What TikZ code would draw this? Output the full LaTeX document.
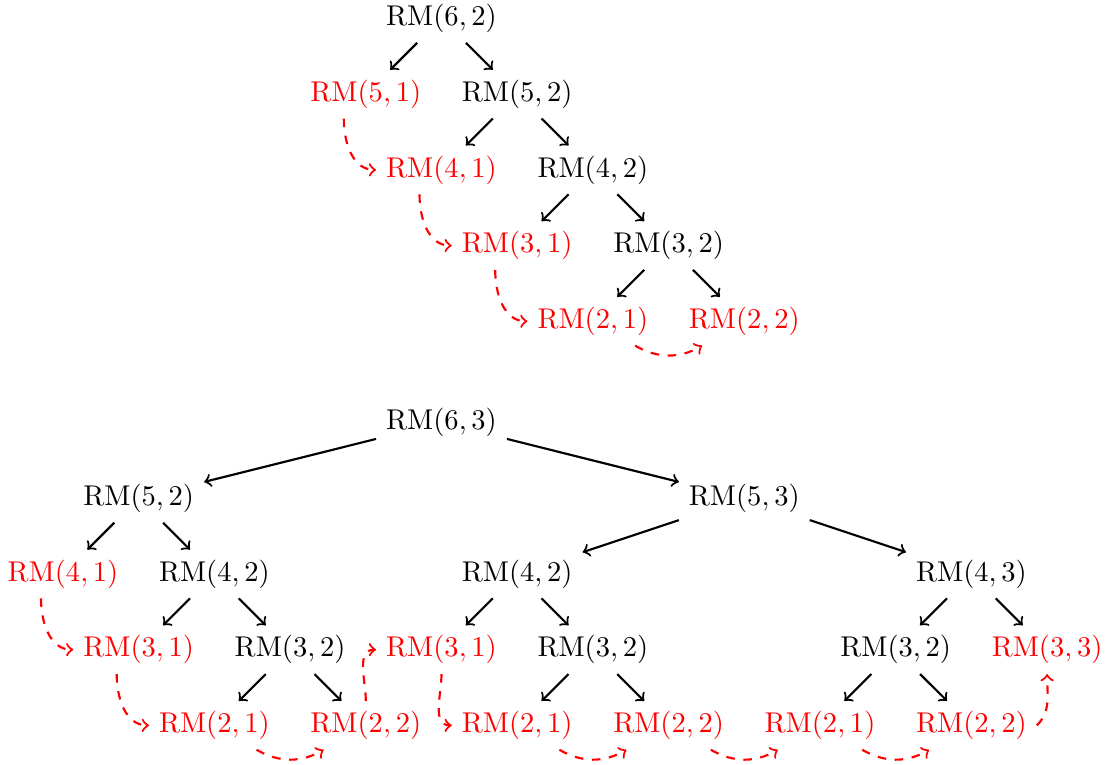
\documentclass[tikz,border=0pt]{standalone}
\usetikzlibrary{calc}
\tikzset{
  lbl/.style={inner sep=0.3333em},
  blk/.style={lbl,text=black},
  rd/.style={lbl,text=red},
  tree/.style={->,line width=0.75pt,black},
  jump/.style={->,line width=0.75pt,dashed,red},
}
\begin{document}
\begin{tikzpicture}[x=0.35pt,y=-0.35pt]
\useasboundingbox (0,0) rectangle (1107,765);
% ---------- top tree ----------
\node[blk] (t62) at (441.5,18.5) {$\mathrm{RM}(6,2)$};
\node[rd]  (t51) at (365.8,94.2) {$\mathrm{RM}(5,1)$};
\node[blk] (t52) at (517.2,94.2) {$\mathrm{RM}(5,2)$};
\node[rd]  (t41) at (441.5,169.9) {$\mathrm{RM}(4,1)$};
\node[blk] (t42) at (592.9,169.9) {$\mathrm{RM}(4,2)$};
\node[rd]  (t31) at (517.2,245.6) {$\mathrm{RM}(3,1)$};
\node[blk] (t32) at (668.6,245.6) {$\mathrm{RM}(3,2)$};
\node[rd]  (t21) at (592.9,321.3) {$\mathrm{RM}(2,1)$};
\node[rd]  (t22) at (744.3,321.3) {$\mathrm{RM}(2,2)$};
\draw[tree] (t62) -- (t51);
\draw[tree] (t62) -- (t52);
\draw[tree] (t52) -- (t41);
\draw[tree] (t52) -- (t42);
\draw[tree] (t42) -- (t31);
\draw[tree] (t42) -- (t32);
\draw[tree] (t32) -- (t21);
\draw[tree] (t32) -- (t22);
\draw[jump] ([xshift=-7.7pt]t51.south) to[out=-90,in=180] (t41.west);
\draw[jump] ([xshift=-7.7pt]t41.south) to[out=-90,in=180] (t31.west);
\draw[jump] ([xshift=-7.7pt]t31.south) to[out=-90,in=180] (t21.west);
\draw[jump] (t21) to[bend right] (t22);
% ---------- bottom tree ----------
\node[blk] (b63) at (441.5,422.6) {$\mathrm{RM}(6,3)$};
\node[blk] (b52) at (138.7,498.3) {$\mathrm{RM}(5,2)$};
\node[blk] (b53) at (744.3,498.3) {$\mathrm{RM}(5,3)$};
\node[rd]  (b41) at (63.0,574.0) {$\mathrm{RM}(4,1)$};
\node[blk] (b42) at (214.4,574.0) {$\mathrm{RM}(4,2)$};
\node[blk] (c42) at (517.2,574.0) {$\mathrm{RM}(4,2)$};
\node[blk] (b43) at (971.4,574.0) {$\mathrm{RM}(4,3)$};
\node[rd]  (b31) at (138.7,649.7) {$\mathrm{RM}(3,1)$};
\node[blk] (b32) at (290.1,649.7) {$\mathrm{RM}(3,2)$};
\node[rd]  (c31) at (441.5,649.7) {$\mathrm{RM}(3,1)$};
\node[blk] (c32) at (592.9,649.7) {$\mathrm{RM}(3,2)$};
\node[blk] (d32) at (895.7,649.7) {$\mathrm{RM}(3,2)$};
\node[rd]  (d33) at (1047.1,649.7) {$\mathrm{RM}(3,3)$};
\node[rd]  (b21) at (214.4,725.4) {$\mathrm{RM}(2,1)$};
\node[rd]  (b22) at (365.8,725.4) {$\mathrm{RM}(2,2)$};
\node[rd]  (c21) at (517.2,725.4) {$\mathrm{RM}(2,1)$};
\node[rd]  (c22) at (668.6,725.4) {$\mathrm{RM}(2,2)$};
\node[rd]  (d21) at (820.0,725.4) {$\mathrm{RM}(2,1)$};
\node[rd]  (d22) at (971.4,725.4) {$\mathrm{RM}(2,2)$};
\draw[tree] (b63) -- (b52);
\draw[tree] (b63) -- (b53);
\draw[tree] (b52) -- (b41);
\draw[tree] (b52) -- (b42);
\draw[tree] (b42) -- (b31);
\draw[tree] (b42) -- (b32);
\draw[tree] (b32) -- (b21);
\draw[tree] (b32) -- (b22);
\draw[tree] (b53) -- (c42);
\draw[tree] (b53) -- (b43);
\draw[tree] (c42) -- (c31);
\draw[tree] (c42) -- (c32);
\draw[tree] (c32) -- (c21);
\draw[tree] (c32) -- (c22);
\draw[tree] (b43) -- (d32);
\draw[tree] (b43) -- (d33);
\draw[tree] (d32) -- (d21);
\draw[tree] (d32) -- (d22);
\draw[jump] ([xshift=-7.7pt]b41.south) to[out=-90,in=180] (b31.west);
\draw[jump] ([xshift=-7.7pt]b31.south) to[out=-90,in=180] (b21.west);
\draw[jump] (b21) to[bend right] (b22);
\draw[jump] (b22.north) to[out=90,in=180] (c31.west);
\draw[jump] (c31.south) to[out=-90,in=180] (c21.west);
\draw[jump] (c21) to[bend right] (c22);
\draw[jump] (c22) to[bend right] (d21);
\draw[jump] (d21) to[bend right] (d22);
\draw[jump] (d22.east) to[out=45,in=-90] (d33.south);
\end{tikzpicture}
\end{document}
